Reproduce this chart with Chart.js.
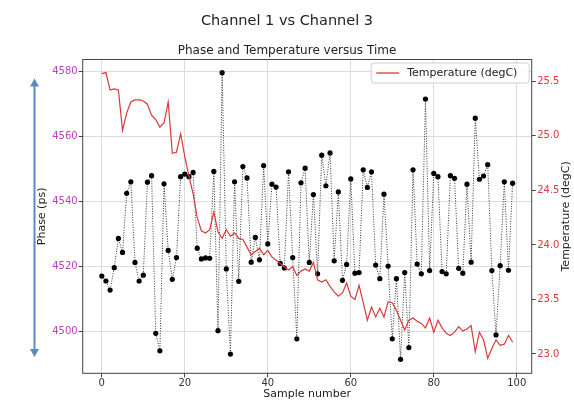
<!DOCTYPE html>
<html>
<head>
<meta charset="utf-8">
<script src="https://cdn.jsdelivr.net/npm/chart.js@4.4.0/dist/chart.umd.min.js"></script>
<style>
html,body{margin:0;padding:0;background:#fff;}
</style>
</head>
<body>
<canvas id="chart" width="574" height="401"></canvas>
<script>
// phase of channel 1 vs channel 3, one value per sample (ps)
const phase = [
  4517.1, 4515.6, 4512.8, 4519.7, 4528.7, 4524.4, 4542.6, 4546.1, 4521.3, 4515.6,
  4517.4, 4546.0, 4548.0, 4499.5, 4494.1, 4545.5, 4525.0, 4516.1, 4522.8, 4547.7,
  4548.5, 4547.7, 4549.0, 4525.7, 4522.4, 4522.7, 4522.6, 4549.3, 4500.3, 4579.7,
  4519.3, 4493.1, 4546.1, 4515.5, 4550.8, 4547.3, 4521.4, 4529.0, 4522.1, 4551.1,
  4527.0, 4545.4, 4544.5, 4521.0, 4519.6, 4549.2, 4522.8, 4497.8, 4545.8, 4550.3,
  4521.3, 4542.2, 4517.8, 4554.3, 4544.9, 4555.0, 4521.8, 4543.0, 4515.8, 4520.7,
  4547.0, 4518.0, 4518.2, 4549.8, 4544.4, 4549.2, 4520.5, 4516.3, 4542.3, 4520.2,
  4497.8, 4516.3, 4491.5, 4518.2, 4495.1, 4549.8, 4520.8, 4517.8, 4571.6, 4518.8,
  4548.7, 4547.7, 4518.5, 4517.8, 4548.0, 4547.2, 4519.5, 4518.0, 4545.4, 4521.4,
  4565.7, 4546.9, 4547.9, 4551.4, 4518.8, 4499.0, 4520.3, 4546.1, 4518.9, 4545.7
];
// temperature (degC)
const temperature = [
  25.57, 25.58, 25.42, 25.43, 25.42, 25.05, 25.21, 25.31, 25.33, 25.33,
  25.32, 25.29, 25.19, 25.15, 25.08, 25.12, 25.31, 24.84, 24.85, 25.02,
  24.81, 24.63, 24.47, 24.25, 24.13, 24.11, 24.14, 24.30, 24.12, 24.06,
  24.14, 24.08, 24.11, 24.06, 24.05, 23.98, 23.91, 23.94, 23.97, 23.91,
  23.95, 23.89, 23.86, 23.83, 23.80, 23.77, 23.80, 23.72, 23.76, 23.78,
  23.76, 23.84, 23.68, 23.66, 23.68, 23.62, 23.57, 23.53, 23.56, 23.65,
  23.53, 23.50, 23.63, 23.47, 23.31, 23.43, 23.34, 23.42, 23.34, 23.48,
  23.47, 23.40, 23.31, 23.22, 23.31, 23.33, 23.30, 23.28, 23.24, 23.33,
  23.20, 23.31, 23.24, 23.19, 23.17, 23.20, 23.25, 23.21, 23.23, 23.26,
  23.02, 23.20, 23.13, 22.96, 23.05, 23.13, 23.08, 23.09, 23.17, 23.11
];
const xTicks = [0, 20, 40, 60, 80, 100];
const phaseTicks = [4500, 4520, 4540, 4560, 4580];
const tempTicks = [23.0, 23.5, 24.0, 24.5, 25.0, 25.5];

const FONT = 'DejaVu Sans';
const MAGENTA = '#bf3fbf';
const RED = '#d83a3a';

// frame round the plot area (matplotlib spines)
const frame = {
  id: 'frame',
  afterDraw(chart) {
    const {ctx, chartArea: a} = chart;
    ctx.save();
    ctx.strokeStyle = '#444';
    ctx.lineWidth = 1;
    ctx.strokeRect(a.left, a.top, a.right - a.left, a.bottom - a.top);
    ctx.restore();
  }
};

// blue double-headed arrow beside the phase axis
const arrow = {
  id: 'arrow',
  afterDraw(chart) {
    const ctx = chart.ctx;
    const x = 34.5, y1 = 78.5, y2 = 357;
    ctx.save();
    ctx.strokeStyle = '#5b8bc4';
    ctx.fillStyle = '#5b8bc4';
    ctx.lineWidth = 2;
    ctx.beginPath(); ctx.moveTo(x, y1 + 6); ctx.lineTo(x, y2 - 6); ctx.stroke();
    ctx.beginPath(); ctx.moveTo(x, y1); ctx.lineTo(x - 4.5, y1 + 8); ctx.lineTo(x + 4.5, y1 + 8); ctx.closePath(); ctx.fill();
    ctx.beginPath(); ctx.moveTo(x, y2); ctx.lineTo(x - 4.5, y2 - 8); ctx.lineTo(x + 4.5, y2 - 8); ctx.closePath(); ctx.fill();
    ctx.restore();
  }
};

// legend box in the upper right of the plot + right axis title (reads upwards)
const extras = {
  id: 'extras',
  afterDraw(chart) {
    const {ctx, chartArea: a} = chart;
    const ds = chart.data.datasets[0];
    const w = 158, h = 20, x = a.right - w - 2.5, y = a.top + 3.5;
    ctx.save();
    ctx.fillStyle = 'rgba(255,255,255,0.85)';
    ctx.strokeStyle = '#cfcfcf';
    ctx.lineWidth = 1;
    ctx.beginPath(); ctx.roundRect(x, y, w, h, 3); ctx.fill(); ctx.stroke();
    ctx.strokeStyle = ds.borderColor;
    ctx.lineWidth = 1.3;
    ctx.beginPath(); ctx.moveTo(x + 5, y + h / 2); ctx.lineTo(x + 28, y + h / 2); ctx.stroke();
    ctx.fillStyle = '#222';
    ctx.font = '11px "' + FONT + '"';
    ctx.textBaseline = 'middle';
    ctx.fillText(ds.label, x + 36, y + h / 2 + 0.5);

    ctx.translate(566, (a.top + a.bottom) / 2);
    ctx.rotate(-Math.PI / 2);
    ctx.textAlign = 'center';
    ctx.fillText('Temperature (degC)', 0, 0);
    ctx.restore();
  }
};

const ctx = document.getElementById('chart');
new Chart(ctx, {
  type: 'line',
  data: {
    datasets: [
      {
        label: 'Temperature (degC)',
        data: temperature.map((v, i) => ({x: i, y: v})),
        yAxisID: 'yTemp',
        borderColor: RED,
        borderWidth: 1.2,
        pointRadius: 0,
        tension: 0,
        order: 0
      },
      {
        label: 'Phase (ps)',
        data: phase.map((v, i) => ({x: i, y: v})),
        yAxisID: 'yPhase',
        borderColor: '#333',
        borderWidth: 1,
        borderDash: [1, 1.5],
        pointRadius: 2.6,
        pointBackgroundColor: '#000',
        pointBorderColor: '#000',
        pointBorderWidth: 0,
        tension: 0,
        order: 1
      }
    ]
  },
  options: {
    responsive: false,
    animation: false,
    layout: {padding: 0},
    plugins: {
      legend: {display: false},
      tooltip: {enabled: false},
      title: {
        display: true,
        text: 'Channel 1 vs Channel 3',
        color: '#222',
        font: {family: FONT, size: 14.5, weight: 'normal'},
        padding: {top: 12.9, bottom: 7}
      },
      subtitle: {
        display: true,
        text: 'Phase and Temperature versus Time',
        color: '#222',
        font: {family: FONT, size: 12, weight: 'normal'},
        padding: {top: 6.3, bottom: 1.5}
      }
    },
    scales: {
      x: {
        type: 'linear',
        min: -4.6,
        max: 103.6,
        afterBuildTicks: s => { s.ticks = xTicks.map(v => ({value: v})); },
        afterFit: s => { s.height = 27.7; },
        grid: {color: '#dcdcdc', tickColor: '#444', tickLength: 4},
        border: {display: false},
        ticks: {color: '#333', padding: 0, maxRotation: 0, font: {family: FONT, size: 10}, callback: v => String(v)},
        title: {
          display: true, text: 'Sample number', color: '#222',
          font: {family: FONT, size: 11, lineHeight: 1},
          padding: {top: 0, bottom: 1.5}
        }
      },
      yPhase: {
        type: 'linear',
        position: 'left',
        min: 4487.2,
        max: 4583.75,
        afterBuildTicks: s => { s.ticks = phaseTicks.map(v => ({value: v})); },
        afterFit: s => { s.width = 82.7; },
        grid: {color: '#dcdcdc', tickColor: '#444', tickLength: 4},
        border: {display: false},
        ticks: {color: MAGENTA, padding: 1, font: {family: FONT, size: 10}, callback: v => String(v)},
        title: {
          display: true, text: 'Phase (ps)', color: '#222',
          font: {family: FONT, size: 11},
          padding: {top: 35.9, bottom: 0}
        }
      },
      yTemp: {
        type: 'linear',
        position: 'right',
        min: 22.823,
        max: 25.70,
        afterBuildTicks: s => { s.ticks = tempTicks.map(v => ({value: v})); },
        afterFit: s => { s.width = 42.3; },
        grid: {drawOnChartArea: false, tickColor: '#444', tickLength: 4},
        border: {display: false},
        ticks: {color: RED, padding: 1.5, font: {family: FONT, size: 10}, callback: v => v.toFixed(1)}
      }
    }
  },
  plugins: [frame, arrow, extras]
});
</script>
</body>
</html>
